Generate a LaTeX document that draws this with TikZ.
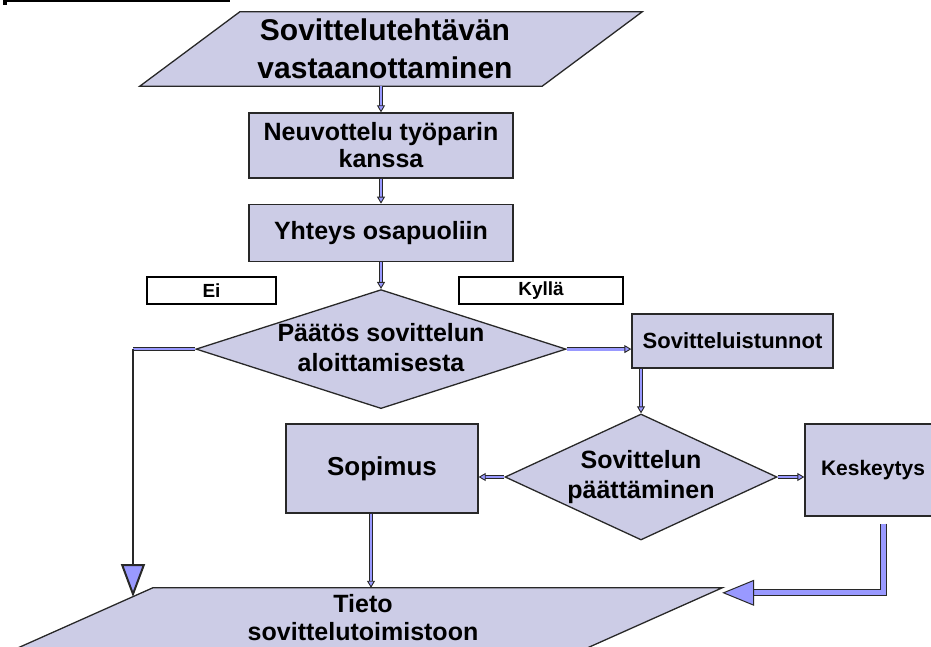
\documentclass[tikz,border=0pt]{standalone}
\usepackage{fontspec}
\setmainfont{Liberation Sans}
\usetikzlibrary{arrows.meta,shapes.geometric,positioning,calc,backgrounds}
\definecolor{boxfill}{RGB}{204,204,230}
\definecolor{linkfill}{RGB}{153,153,255}
\definecolor{edge}{RGB}{40,40,40}

\begin{document}
\begin{tikzpicture}[
    x=1pt, y=-1pt,
    node distance=25pt,
    proc/.style={rectangle,draw=edge,line width=1.3pt,fill=boxfill,align=center,inner sep=0pt},
    iobox/.style={rectangle,inner sep=0pt},
    ioshape/.style={draw=edge,line width=1.3pt,fill=boxfill},
    decide/.style={diamond,draw=edge,line width=1.3pt,fill=boxfill,inner sep=0pt},
    words/.style={align=center,font=\fontsize{25}{30}\selectfont\bfseries},
    tag/.style={rectangle,draw=black,line width=1.5pt,fill=white,inner sep=0pt,minimum height=27pt,font=\fontsize{19}{21}\selectfont\bfseries},
    link/.style={draw=edge,line width=0.9pt,double=linkfill,double distance=2.8pt,-{Triangle[length=7pt,width=8pt,fill=linkfill]}},
    bar/.style={draw=edge,line width=0.9pt,double=linkfill,double distance=2pt},
    fatlink/.style={draw=edge,line width=1pt,double=linkfill,double distance=5pt,-{Triangle[length=32pt,width=26pt,fill=linkfill]}},
    bigtip/.style={-{Triangle[length=33pt,width=24pt,fill=linkfill]}}
]
    \useasboundingbox (0,0) rectangle (931,647);
    \clip (0,0) rectangle (931,647);
    \draw[line width=2.5pt] (4,1) -- (230,1);
    \fill (3,0) rectangle (7,5);

    \node[iobox,minimum width=502pt,minimum height=74pt] (task) at (391,49) {};
    \node[font=\fontsize{30}{38}\selectfont\bfseries,align=center] (tasktext) at ([xshift=-6pt]task.center) {Sovittelutehtävän\\vastaanottaminen};

    \node[proc,minimum width=264pt,minimum height=65pt,font=\fontsize{25}{27}\selectfont\bfseries] (talk) at (381,145.5) {Neuvottelu työparin\\kanssa};
    \node[proc,minimum width=264pt,minimum height=57pt,font=\fontsize{25}{30}\selectfont\bfseries,below=25pt of talk] (contact) {Yhteys osapuoliin};
    \node[decide,minimum width=370pt,minimum height=119pt,below=27pt of contact] (start) {};
    \node[words] (starttext) at ([yshift=2pt]start.center) {Päätös sovittelun\\aloittamisesta};

    % Answers
    \node[tag,minimum width=129pt] (no) at (211.5,290.5) {Ei};
    \node[tag,minimum width=164pt] (yes) at (541,290.5) {Kyllä};

    \node[proc,minimum width=201pt,minimum height=54pt,font=\fontsize{22}{26}\selectfont\bfseries] (sessions) at (732.5,341) {Sovitteluistunnot};
    \node[decide,minimum width=272pt,minimum height=126pt] (close) at (641,477) {};
    \node[words] (closetext) at (close) {Sovittelun\\päättäminen};
    \node[proc,minimum width=192pt,minimum height=89pt,font=\fontsize{26}{30}\selectfont\bfseries] (deal) at (382,468.5) {Sopimus};
    \node[proc,minimum width=136pt,minimum height=92pt,font=\fontsize{21}{25}\selectfont\bfseries] (halt) at (873,470) {Keskeytys};

    \node[iobox,minimum width=718pt,minimum height=66pt] (report) at (363,621) {};
    \node[words,font=\fontsize{25}{28}\selectfont\bfseries] (reporttext) at ([yshift=3pt]report.center) {Tieto\\sovittelutoimistoon};

    % Slanted input/output shapes
    \begin{scope}[on background layer]
        \filldraw[ioshape] ([xshift=100pt]task.north west) -- (task.north east) -- ([xshift=-100pt]task.south east) -- (task.south west) -- cycle;
        \filldraw[ioshape] ([xshift=149pt]report.north west) -- (report.north east) -- ([xshift=-149pt]report.south east) -- (report.south west) -- cycle;
    \end{scope}

    \draw[link] (talk.north |- task.south) -- (talk.north);
    \draw[link] (talk.south) -- (contact.north);
    \draw[link] (contact.south) -- (start.north);
    \draw[link] (start.east) -- (start.east -| sessions.west);
    \draw[link] (close.north |- sessions.south) -- (close.north);
    \draw[link] (close.west) -- (close.west -| deal.east);
    \draw[link] (close.east) -- (close.east -| halt.west);
    \draw[link] ([xshift=-11pt]deal.south) -- ([xshift=-11pt]deal.south |- report.north);

    % Ei branch
    \coordinate (noend) at (133,597);
    \draw[bar] (start.west) -- (noend |- start.west);
    \draw[draw=edge,line width=2pt,bigtip] (noend |- start.west) -- (noend);

    % Keskeytys branch
    \draw[fatlink] ([xshift=10pt,yshift=-7pt]halt.south) |- ([yshift=-5pt]report.north east);
\end{tikzpicture}
\end{document}
